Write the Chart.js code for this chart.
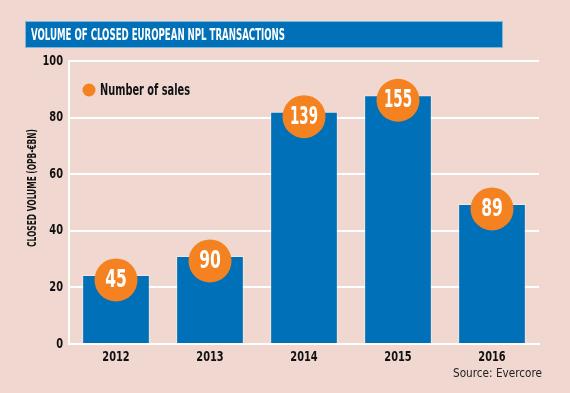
<!DOCTYPE html>
<html>
<head>
<meta charset="utf-8">
<script src="https://cdn.jsdelivr.net/npm/chart.js@4/dist/chart.umd.min.js"></script>
<style>
  html, body { margin: 0; padding: 0; background: #f0d8d0; }
  #wrap { width: 570px; height: 393px; position: relative; }
</style>
</head>
<body>
<div id="wrap"><canvas id="npl"></canvas></div>
<script>
// --- DATA ---
const years = ['2012', '2013', '2014', '2015', '2016'];
const volumes = [24.4, 31.1, 82.1, 87.9, 49.5];      // closed volume, OPB €bn
const salesCounts = [45, 90, 139, 155, 89];          // number of sales
const yTicks = [0, 20, 40, 60, 80, 100];

const BG = '#f0d8d0';
const BLUE = '#0070b8';
const ORANGE = '#f58220';
const FONT = '"DejaVu Sans Condensed", "DejaVu Sans", sans-serif';

// condensed text: squeeze horizontally so it looks like the DIN-style original
function narrowText(ctx, text, x, y, font, align, sx) {
    ctx.save();
    ctx.font = font;
    ctx.textAlign = align;
    ctx.textBaseline = 'middle';
    ctx.translate(x, y);
    ctx.scale(sx, 1);
    ctx.fillText(text, 0, 0);
    ctx.restore();
}

const decor = {
    id: 'decor',
    beforeDraw(chart) {
        const ctx = chart.ctx;
        ctx.save();
        ctx.fillStyle = BG;
        ctx.fillRect(0, 0, chart.width, chart.height);

        // title bar
        ctx.fillStyle = BLUE;
        ctx.fillRect(25, 21, 478, 27);
        ctx.strokeStyle = 'rgba(255,255,255,0.5)';
        ctx.lineWidth = 1;
        ctx.strokeRect(25.5, 21.5, 477, 26);
        ctx.fillStyle = '#ffffff';
        ctx.font = 'bold 16px ' + FONT;
        ctx.textBaseline = 'middle';
        ctx.fillText('VOLUME OF CLOSED EUROPEAN NPL TRANSACTIONS', 31, 35.5, 254);

        // rotated y axis title
        ctx.translate(33, 188);
        ctx.rotate(-Math.PI / 2);
        ctx.fillStyle = '#111';
        ctx.font = 'bold 12px ' + FONT;
        ctx.textAlign = 'center';
        ctx.fillText('CLOSED VOLUME (OPB-€BN)', 0, 0, 118);
        ctx.restore();
    },
    afterDraw(chart) {
        const ctx = chart.ctx;
        const x = chart.scales.x, y = chart.scales.y;
        ctx.save();

        // tick labels, placed through the scales
        ctx.fillStyle = '#111';
        y.ticks.forEach(t => {
            narrowText(ctx, String(t.value), 63, y.getPixelForValue(t.value), 'bold 14px ' + FONT, 'right', 0.78);
        });
        years.forEach((lab, i) => {
            narrowText(ctx, lab, x.getPixelForValue(i), 357, 'bold 14px ' + FONT, 'center', 0.78);
        });

        // number-of-sales bubbles sitting on the bar tops
        salesCounts.forEach((n, i) => {
            const cx = x.getPixelForValue(i);
            const cy = y.getPixelForValue(volumes[i]) + 5;
            ctx.beginPath();
            ctx.arc(cx, cy, 21.5, 0, Math.PI * 2);
            ctx.fillStyle = ORANGE;
            ctx.fill();
            ctx.fillStyle = '#ffffff';
            narrowText(ctx, String(n), cx, cy + 1, 'bold 24px ' + FONT, 'center', n > 99 ? 0.62 : 0.72);
        });

        // legend
        ctx.beginPath();
        ctx.arc(89, 90, 6.5, 0, Math.PI * 2);
        ctx.fillStyle = ORANGE;
        ctx.fill();
        ctx.fillStyle = '#111';
        ctx.font = 'bold 16px ' + FONT;
        ctx.textAlign = 'left';
        ctx.textBaseline = 'middle';
        ctx.fillText('Number of sales', 100, 90.5, 90);

        // source
        ctx.font = '13px ' + FONT;
        ctx.fillStyle = '#222';
        ctx.fillText('Source: Evercore', 453, 374, 89);
        ctx.restore();
    }
};

new Chart(document.getElementById('npl'), {
    type: 'bar',
    data: {
        labels: years,
        datasets: [{
            label: 'Closed volume',
            data: volumes,
            backgroundColor: BLUE,
            borderColor: 'rgba(255,255,255,0.35)',
            borderWidth: 1,
            barPercentage: 0.72,
            categoryPercentage: 1
        }]
    },
    options: {
        responsive: true,
        maintainAspectRatio: false,
        animation: false,
        events: [],
        layout: { padding: { left: 0, right: 31, top: 61, bottom: 0 } },
        plugins: { legend: { display: false }, tooltip: { enabled: false } },
        scales: {
            x: {
                grid: { display: false, drawTicks: false },
                border: { display: true, color: '#ffffff', width: 2 },
                ticks: { display: false },
                afterFit(s) { s.height = 49; }
            },
            y: {
                min: 0, max: 100,
                afterBuildTicks(s) { s.ticks = yTicks.map(v => ({ value: v })); },
                grid: { color: '#ffffff', lineWidth: 2, drawTicks: false },
                border: { display: true, color: '#ffffff', width: 2 },
                ticks: { display: false },
                afterFit(s) { s.width = 69; }
            }
        }
    },
    plugins: [decor]
});
</script>
</body>
</html>
